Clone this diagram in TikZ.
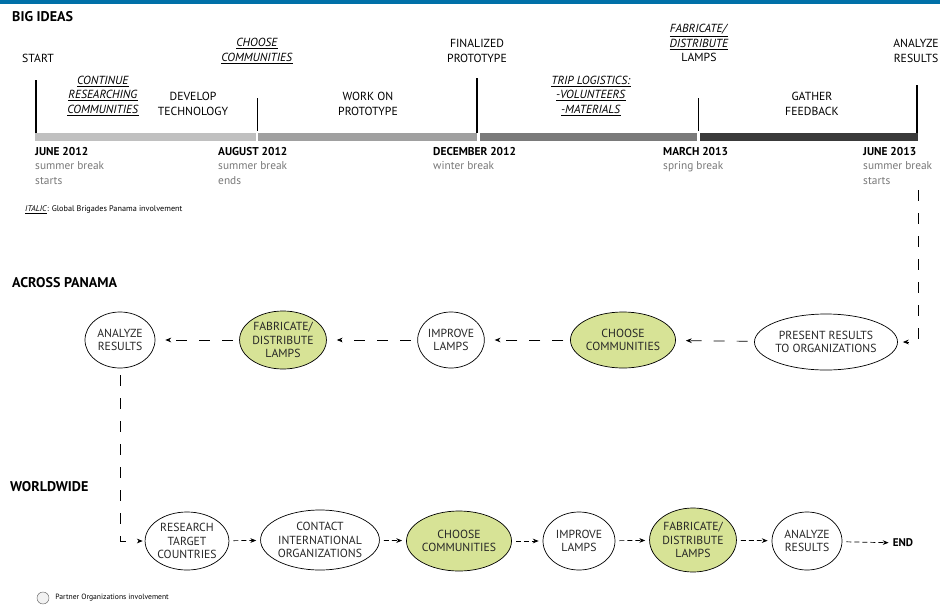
\documentclass[tikz,border=0pt]{standalone}
\usepackage{fontspec}
\setmainfont{PT Sans}
\usetikzlibrary{shapes.geometric,arrows.meta,positioning}

\definecolor{topblue}{RGB}{0,112,168}
\definecolor{lampgreen}{RGB}{215,227,150}
\definecolor{notegray}{RGB}{120,120,120}
\definecolor{barA}{RGB}{192,192,192}
\definecolor{barB}{RGB}{160,160,160}
\definecolor{barC}{RGB}{122,122,122}
\definecolor{barD}{RGB}{58,58,58}

% underlined italic = Global Brigades Panama
\newcommand{\gbp}[1]{\underline{\textit{#1}}}

\begin{document}
\begin{tikzpicture}[
        x=0.03cm, y=-0.03cm,
        stage/.style={ellipse, draw=black, semithick, align=center, inner sep=0pt,
            text=black!85, font=\fontsize{10}{11.5}\selectfont},
        partner/.style={stage, fill=lampgreen},
        heading/.style={anchor=west, inner sep=0pt, font=\fontsize{12}{14}\selectfont\bfseries},
        milestone/.style={align=center, inner sep=0pt, font=\fontsize{10}{12.5}\selectfont},
        datelabel/.style={anchor=north west, align=left, inner sep=0pt, font=\fontsize{9.7}{12.5}\selectfont},
        note/.style={anchor=west, inner sep=0pt, font=\fontsize{7}{8}\selectfont},
        longflow/.style={-{Stealth[length=5pt,width=4pt]}, semithick, dash pattern=on 0.33cm off 0.36cm},
        shortflow/.style={-{Stealth[length=5pt,width=4pt]}, semithick, dash pattern=on 0.15cm off 0.09cm, shorten <=0.12cm, shorten >=0.12cm}]
        \useasboundingbox (0,0) rectangle (940,607);
        \fill[topblue] (0,0) rectangle (940,4);

        % HEADINGS
        \node[heading] (Big) at (12,17) {BIG IDEAS};
        \node[heading] (Panama) at (12,283) {ACROSS PANAMA};
        \node[heading] (World) at (10,487) {WORLDWIDE};

        % TIMELINE
        \fill[barA] (35,133) rectangle (256,141);
        \fill[barB] (258,133) rectangle (477,141);
        \fill[barC] (480,133) rectangle (697,141);
        \fill[barD] (700,133) rectangle (918,141);
        \draw[line width=1.6pt] (36,80) -- (36,133);
        \draw[line width=0.8pt] (257,98) -- (257,131);
        \draw[line width=1.6pt] (477,78) -- (477,133);
        \draw[line width=0.8pt] (698,98) -- (698,131);
        \draw[line width=1.6pt] (917,85) -- (917,133);
        \coordinate (Tend) at (918,190);

        % milestones
        \node[milestone] (Start) at (38,58) {START};
        \node[milestone] (Research) at (103,96) {\gbp{CONTINUE}\\\gbp{RESEARCHING}\\\gbp{COMMUNITIES}};
        \node[milestone] (Develop) at (193,104) {DEVELOP\\TECHNOLOGY};
        \node[milestone] (Choose) at (257,51) {\gbp{CHOOSE}\\\gbp{COMMUNITIES}};
        \node[milestone] (Work) at (368,104) {WORK ON\\PROTOTYPE};
        \node[milestone] (Final) at (477,51) {FINALIZED\\PROTOTYPE};
        \node[milestone] (Trip) at (591,96) {\gbp{TRIP LOGISTICS:}\\\gbp{-VOLUNTEERS}\\\gbp{-MATERIALS}};
        \node[milestone] (Fab) at (699,43) {\gbp{FABRICATE/}\\\gbp{DISTRIBUTE}\\LAMPS};
        \node[milestone] (Gather) at (812,104) {GATHER\\FEEDBACK};
        \node[milestone] (Analyze) at (916,51) {ANALYZE\\RESULTS};

        % dates
        \node[datelabel] (June) at (35,147) {\textbf{JUNE 2012}\\\textcolor{notegray}{summer break}\\\textcolor{notegray}{starts}};
        \node[datelabel] (Aug) at (218,147) {\textbf{AUGUST 2012}\\\textcolor{notegray}{summer break}\\\textcolor{notegray}{ends}};
        \node[datelabel] (Dec) at (433,147) {\textbf{DECEMBER 2012}\\\textcolor{notegray}{winter break}};
        \node[datelabel] (Mar) at (663,147) {\textbf{MARCH 2013}\\\textcolor{notegray}{spring break}};
        \node[datelabel] (JuneB) at (863,147) {\textbf{JUNE 2013}\\\textcolor{notegray}{summer break}\\\textcolor{notegray}{starts}};
        \node[note] (Italic) at (25,210) {\gbp{ITALIC}: Global Brigades Panama involvement};

        % ACROSS PANAMA
        \node[stage, minimum width=2.1cm, minimum height=1.68cm] (A2) at (120,340) {ANALYZE\\RESULTS};
        \node[partner, minimum width=2.22cm, minimum height=1.74cm] (F2) at (283,340) {FABRICATE/\\DISTRIBUTE\\LAMPS};
        \node[stage, minimum width=2.0cm, minimum height=1.68cm] (I2) at (451,340) {IMPROVE\\LAMPS};
        \node[partner, minimum width=2.46cm, minimum height=1.68cm] (C2) at (623,340) {CHOOSE\\COMMUNITIES};
        \node[stage, minimum width=3.36cm, minimum height=1.68cm] (P2) at (826,342) {PRESENT RESULTS\\TO ORGANIZATIONS};

        % WORLDWIDE
        \node[stage, minimum width=2.4cm, minimum height=1.74cm] (R3) at (187,541) {RESEARCH\\TARGET\\COUNTRIES};
        \node[stage, minimum width=3.18cm, minimum height=1.8cm] (T3) at (320,540) {CONTACT\\INTERNATIONAL\\ORGANIZATIONS};
        \node[partner, minimum width=2.64cm, minimum height=1.8cm] (C3) at (459,541) {CHOOSE\\COMMUNITIES};
        \node[stage, minimum width=2.16cm, minimum height=1.74cm] (I3) at (579,541) {IMPROVE\\LAMPS};
        \node[partner, minimum width=2.16cm, minimum height=1.92cm] (F3) at (693,540) {FABRICATE/\\DISTRIBUTE\\LAMPS};
        \node[stage, minimum width=2.1cm, minimum height=1.74cm] (A3) at (807,541) {ANALYZE\\RESULTS};
        \node[inner sep=0pt, font=\fontsize{9.5}{11}\selectfont\bfseries] (End) at (903,543) {END};

        % legend
        \node[circle, draw=black!60, fill=black!5, minimum size=0.36cm, inner sep=0pt] (Key) at (43,598) {};
        \node[note, right=0.18cm of Key, font=\fontsize{6.5}{7}\selectfont] (KeyText) {Partner Organizations involvement};

        % ARROWS
        \draw[longflow, shorten >=0.15cm] (Tend) |- (P2.east);
        \draw[longflow, shorten <=0.2cm, shorten >=0.3cm] (P2) -- (C2);
        \draw[longflow, shorten <=0.2cm, shorten >=0.3cm] (C2) -- (I2);
        \draw[longflow, shorten <=0.2cm, shorten >=0.3cm] (I2) -- (F2);
        \draw[longflow, shorten <=0.2cm, shorten >=0.3cm] (F2) -- (A2);
        \draw[longflow, shorten <=0.2cm, shorten >=0.06cm] (A2.south) |- (R3.west);
        \draw[shortflow] (R3) -- (T3);
        \draw[shortflow] (T3) -- (C3);
        \draw[shortflow] (C3) -- (I3);
        \draw[shortflow] (I3) -- (F3);
        \draw[shortflow] (F3) -- (A3);
        \draw[shortflow] (A3) -- (End);
    \end{tikzpicture}
\end{document}
